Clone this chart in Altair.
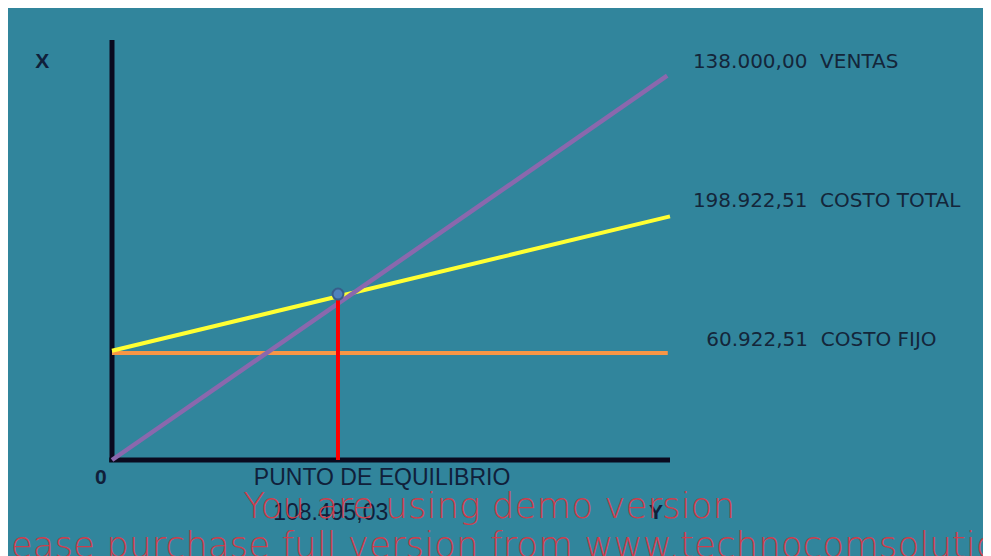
import altair as alt
import pandas as pd

# ---- data (schematic units, as drawn in the picture) ----
ventas_x = [0, 99.5]
ventas_y = [0, 91.5]
ct_x = [0, 100]
ct_y = [26, 58]
cf_x = [0, 99.6]
cf_y = [25.5, 25.5]
eq_x = [40.5]
eq_y = [39.5]
axis_x_x = [-0.5, 100]
axis_x_y = [0, 0]
axis_y_x = [0, 0]
axis_y_y = [-0.5, 100]

right_labels = ["138.000,00\u00a0\u00a0VENTAS", "198.922,51\u00a0\u00a0COSTO TOTAL", "60.922,51\u00a0\u00a0COSTO FIJO"]
right_x = [104.1, 104.1, 106.5]
right_y = [94.8, 61.7, 28.6]

bottom_labels = ["PUNTO DE EQUILIBRIO", "108.495,03"]
bottom_x = [48.4, 39.2]
bottom_y = [-4.4, -12.6]

axis_labels = ["X", "0", "Y"]
axis_lab_x = [-12.5, -2.0, 97.5]
axis_lab_y = [94.8, -4.3, -12.6]

wm_line1 = ["You are using demo version"]
wm1_x = [67.6]
wm1_y = [-11.2]
wm_line2 = ["Please purchase full version from www.technocomsolutions.com"]
wm2_x = [-23.8]
wm2_y = [-20.5]

X = lambda f="x": alt.X(f"{f}:Q", scale=alt.Scale(domain=[0, 100], nice=False, zero=False), axis=None)
Y = lambda f="y": alt.Y(f"{f}:Q", scale=alt.Scale(domain=[0, 100], nice=False, zero=False), axis=None)


def seg(xs, ys, color, width):
    df = pd.DataFrame({"x": xs, "y": ys})
    return alt.Chart(df).mark_line(color=color, strokeWidth=width).encode(x=X(), y=Y())


def texts(labels, xs, ys, **kw):
    df = pd.DataFrame({"t": labels, "x": xs, "y": ys})
    return alt.Chart(df).mark_text(**kw).encode(x=X(), y=Y(), text="t:N")


ax_x = seg(axis_x_x, axis_x_y, "#0a0a1e", 5)
ax_y = seg(axis_y_x, axis_y_y, "#0a0a1e", 5)
cf = seg(cf_x, cf_y, "#F79646", 4)
ct = seg(ct_x, ct_y, "#FFFF33", 4)
ventas = seg(ventas_x, ventas_y, "#8a68ad", 4.5)

eq_df = pd.DataFrame({"x": eq_x, "y": eq_y, "y0": [0] * len(eq_x)})
red = alt.Chart(eq_df).mark_rule(color="#FF0000", strokeWidth=4).encode(
    x=X(), y=Y("y0"), y2="y:Q")
dot = alt.Chart(eq_df).mark_point(filled=True, size=120, fill="#4F81BD",
                                   stroke="#385D8A", strokeWidth=2, opacity=1).encode(x=X(), y=Y())

t_right = texts(right_labels, right_x, right_y, align="left", baseline="middle",
                font="DejaVu Sans", fontSize=20, color="#14263a")
t_bottom = texts(bottom_labels, bottom_x, bottom_y, align="center", baseline="middle",
                 font="Liberation Sans", fontSize=23, color="#10203a")
t_axis = texts(axis_labels, axis_lab_x, axis_lab_y, align="center", baseline="middle",
               font="Liberation Sans", fontSize=21, fontWeight="bold", color="#10203a")
t_wm1 = texts(wm_line1, wm1_x, wm1_y, align="center", baseline="middle",
              font="DejaVu Sans", fontSize=35.7, fontWeight=200, color="#cc3e4c")
t_wm2 = texts(wm_line2, wm2_x, wm2_y, align="left", baseline="middle",
              font="DejaVu Sans", fontSize=35.7, fontWeight=200, color="#cc3e4c")

chart = alt.layer(ax_x, ax_y, cf, ct, ventas, red, dot, t_right, t_bottom, t_axis, t_wm1, t_wm2).properties(
    width=558, height=420,
    autosize=alt.AutoSizeParams(type="none"),
    padding={"left": 104, "top": 32, "right": 313, "bottom": 96},
    background="#31859C",
).configure_view(stroke=None)

chart.save("out.html", embed_options={"renderer": "svg", "actions": False})
